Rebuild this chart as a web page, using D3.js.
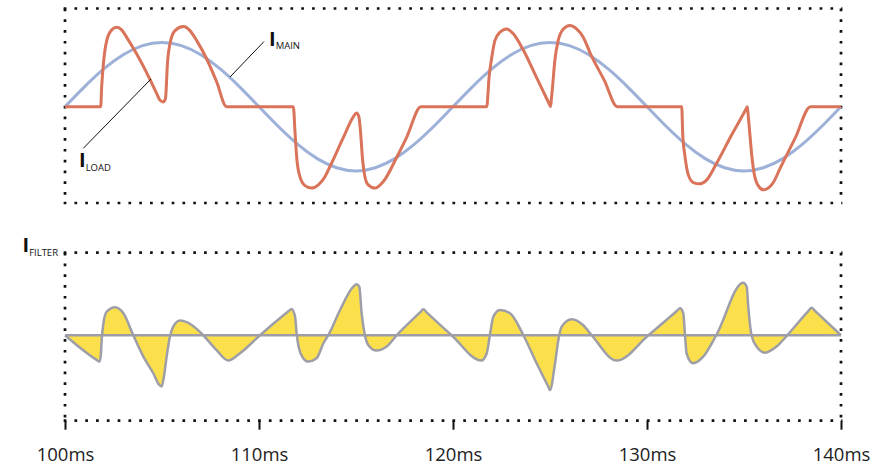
<!DOCTYPE html>
<html>
<head>
<meta charset="utf-8">
<script src="https://cdn.jsdelivr.net/npm/d3@7"></script>
<style>
  html, body { margin: 0; padding: 0; background: #fff; }
  svg { display: block; }
  text { font-family: "Open Sans", "Noto Sans", sans-serif; }
</style>
</head>
<body>
<svg id="chart" width="882" height="468"></svg>
<script>
// ---------- data ----------
// Mains current (ms, A)
const mainTime = [100,101,102,103,104,105,106,107,108,109,110,111,112,113,114,115,116,117,118,119,120,
                  121,122,123,124,125,126,127,128,129,130,131,132,133,134,135,136,137,138,139,140];
const mainCurrent = [0,3.09,5.88,8.09,9.51,10,9.51,8.09,5.88,3.09,0,-3.09,-5.88,-8.09,-9.51,-10,-9.51,-8.09,-5.88,-3.09,0,
                     3.09,5.88,8.09,9.51,10,9.51,8.09,5.88,3.09,0,-3.09,-5.88,-8.09,-9.51,-10,-9.51,-8.09,-5.88,-3.09,0];

// Load current (ms, A)
const loadTime = [100,101.84,101.89,101.98,102.15,102.41,102.66,102.92,103.18,103.69,104.38,104.73,104.9,105.07,105.18,105.22,105.27,105.41,105.67,106.1,106.44,106.79,107.3,107.82,108.33,
  111.77,111.86,111.94,112.11,112.37,112.71,113.06,113.4,113.69,114.35,114.86,115.03,115.15,115.24,115.34,115.46,115.63,115.98,116.41,117.1,117.61,118.35,
  121.74,121.86,122.0,122.16,122.42,122.76,123.11,123.59,124.31,124.95,125.03,125.08,125.13,125.25,125.42,125.69,126.03,126.37,126.72,127.1,127.8,128.47,
  131.79,131.84,131.96,132.13,132.39,132.7,133.08,133.56,134.36,135.1,135.17,135.22,135.27,135.39,135.52,135.74,136.0,136.34,136.51,136.86,137.63,138.43,140];
const loadCurrent = [0,0,3.1,6.7,10.3,11.97,12.37,11.97,10.8,8.24,4.26,2.04,1.0,0.75,1.3,3.0,6.2,9.8,11.86,12.48,11.86,10.3,7.47,3.85,0,
  0,-4.16,-7.8,-10.9,-12.3,-12.68,-12.17,-10.9,-9.12,-4.78,-1.58,-0.96,-1.58,-4.16,-8.3,-10.9,-12.17,-12.68,-11.66,-7.88,-4.78,0,
  0,4.62,7.72,10.3,11.6,12.12,11.35,9.02,4.52,0.5,0,1.5,3.07,7.2,10.3,12.1,12.64,12.12,10.8,8.14,4.1,0,
  0,-4.16,-7.78,-10.62,-11.81,-12.02,-11.4,-8.97,-4.42,-0.4,0,-1.5,-3.13,-7.26,-10.36,-12.33,-12.95,-12.43,-11.8,-9.6,-4.94,0,0];

// Filter current (ms, A)
const filterTime = [100,101.63,101.77,101.84,101.89,101.98,102.15,102.58,103.01,103.52,104.04,104.55,104.86,104.98,105.1,105.24,105.41,105.58,105.93,106.53,107.13,107.8,108.42,109.02,110.05,111.45,111.6,111.68,
  111.86,111.94,112.06,112.28,112.54,112.97,113.32,113.57,114.18,114.86,115.03,115.17,115.29,115.46,115.63,116.06,116.58,117.1,118.3,118.47,118.64,119.93,121.46,121.74,121.9,122.08,122.42,122.94,123.63,124.31,124.9,125.0,
  125.26,125.43,125.6,126.12,126.7,127.15,128.44,130.07,131.55,131.7,131.87,131.96,132.04,132.37,132.9,133.57,134.96,135.14,135.22,135.39,135.65,136.08,136.68,137.23,138.3,138.48,138.66,140];
const filterCurrent = [0,-5.11,-5.46,-4.42,-0.97,2.48,4.9,5.8,4.55,0,-4.42,-7.87,-10.3,-10.6,-8.56,-4.42,-0.28,1.78,3.03,2.13,0,-3.04,-5.25,-3.73,0,4.75,5.24,5.45,
  3.85,0.41,-2.7,-4.76,-5.46,-4.76,-1.66,0,5.24,10.06,10.55,10.06,4.55,0,-2.0,-3.18,-2.35,0,4.72,5.38,4.75,0,-5.25,-3.73,0,3.85,5.24,4.55,0,-5.8,-10.55,-11.33,
  -5.8,-0.97,1.78,3.31,2.13,0,-5.25,0,5.07,5.59,4.55,0,-3.73,-5.8,-4.42,0,10.9,10.06,5.92,0,-2.35,-3.6,-2.35,0,4.95,5.72,5.05,0];

const tickValues = [100,110,120,130,140];
const tickLabels = ["100ms","110ms","120ms","130ms","140ms"];

// ---------- layout ----------
const svg = d3.select("#chart");
const left = 65, right = 841;
const top1 = 8.5, bot1 = 203;
const top2 = 252.7, bot2 = 420.7;

const x = d3.scaleLinear().domain([100,140]).range([left,right]);
const yTop = d3.scaleLinear().domain([-15,15.3]).range([bot1,top1]);
const yBot = d3.scaleLinear().domain([-17.7,17.1]).range([bot2,top2]);

const dotColor = "#111";
function dotted(x1,y1,x2,y2){
  svg.append("line").attr("x1",x1).attr("y1",y1).attr("x2",x2).attr("y2",y2)
    .attr("stroke",dotColor).attr("stroke-width",2.7).attr("stroke-dasharray","2.7 8.1");
}
function frame(t,b){
  dotted(left-1.35,t,right+1.35,t);
  dotted(left,t,left,b);
  dotted(right,t,right,b);
  dotted(left-1.35,b,right+1.35,b);
}
frame(top1,bot1);
frame(top2,bot2);

// ---------- top panel ----------
const mainData = mainTime.map((t,i)=>[t,mainCurrent[i]]);
const loadData = loadTime.map((t,i)=>[t,loadCurrent[i]]);

svg.append("path").datum(mainData)
  .attr("fill","none").attr("stroke","#9db1d8").attr("stroke-width",3)
  .attr("d", d3.line().x(d=>x(d[0])).y(d=>yTop(d[1])).curve(d3.curveNatural));

svg.append("path").datum(loadData)
  .attr("fill","none").attr("stroke","#d97359").attr("stroke-width",3).attr("stroke-linejoin","round")
  .attr("d", d3.line().x(d=>x(d[0])).y(d=>yTop(d[1])).curve(d3.curveMonotoneX));

// leader lines
svg.append("line").attr("x1",264).attr("y1",41.5).attr("x2",230).attr("y2",77)
  .attr("stroke","#111").attr("stroke-width",1);
svg.append("line").attr("x1",83.3).attr("y1",148.3).attr("x2",151).attr("y2",79)
  .attr("stroke","#111").attr("stroke-width",1);

function label(xp, yp, sub, subDy){
  const t = svg.append("text").attr("x",xp).attr("y",yp).attr("fill","#111");
  t.append("tspan").attr("font-size",20).attr("font-weight","bold").text("I");
  t.append("tspan").attr("font-size",9.5).attr("dy",subDy).text(sub);
}
label(269, 46, "MAIN", 3.4);
label(79, 166.7, "LOAD", 4.6);
label(22.5, 252.3, "FILTER", 3.4);

// ---------- bottom panel ----------
const filterData = filterTime.map((t,i)=>[t,filterCurrent[i]]);
svg.append("path").datum(filterData)
  .attr("fill","#fbe04c").attr("stroke","none")
  .attr("d", d3.area().x(d=>x(d[0])).y0(yBot(0)).y1(d=>yBot(d[1])).curve(d3.curveMonotoneX));
svg.append("line").attr("x1",x(100)).attr("x2",x(140)).attr("y1",yBot(0)).attr("y2",yBot(0))
  .attr("stroke","#9e9ea8").attr("stroke-width",2.5);
svg.append("path").datum(filterData)
  .attr("fill","none").attr("stroke","#9e9ea8").attr("stroke-width",2.5).attr("stroke-linejoin","round")
  .attr("d", d3.line().x(d=>x(d[0])).y(d=>yBot(d[1])).curve(d3.curveMonotoneX));

// ---------- axis ----------
const axis = d3.axisBottom(x).tickValues(tickValues)
  .tickFormat((d,i)=>tickLabels[i]).tickSize(9).tickPadding(18);
const gAxis = svg.append("g").attr("transform",`translate(0,${bot2})`).call(axis);
gAxis.select(".domain").remove();
gAxis.selectAll(".tick line").attr("stroke","#111").attr("stroke-width",2);
gAxis.selectAll(".tick text").attr("font-size",18.5).attr("fill","#222")
  .attr("font-family","'Open Sans', 'Noto Sans', sans-serif");
</script>
</body>
</html>
